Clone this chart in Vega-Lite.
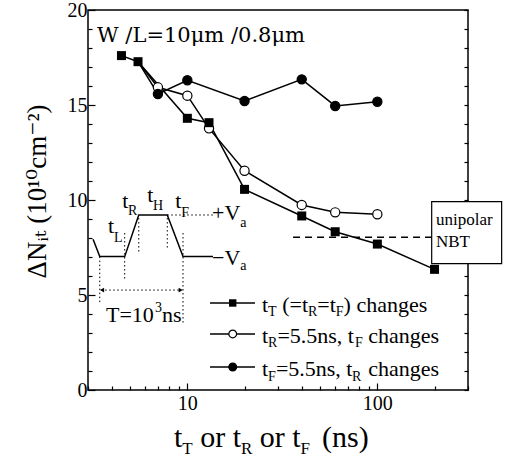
{
  "$schema": "https://vega.github.io/schema/vega-lite/v6.json",
  "width": 380,
  "height": 380,
  "autosize": "none",
  "padding": {"left": 88, "top": 10, "right": 40, "bottom": 72},
  "background": "white",
  "config": {
    "view": {"stroke": "black", "strokeWidth": 1.5},
    "axis": {"domain": false, "grid": false, "tickColor": "black", "tickWidth": 1.2, "labelColor": "black", "labelFont": "Liberation Serif, Times New Roman, DejaVu Serif, serif", "labelFontSize": 20, "titleColor": "black"},
    "text": {"font": "Liberation Serif, Times New Roman, DejaVu Serif, serif", "color": "black"}
  },
  "datasets": {
    "series": [
      {"s": "T", "x": 4.5, "y": 17.6},
      {"s": "T", "x": 5.5, "y": 17.28},
      {"s": "T", "x": 10, "y": 14.3},
      {"s": "T", "x": 13, "y": 14.07},
      {"s": "T", "x": 20, "y": 10.56},
      {"s": "T", "x": 40, "y": 9.16},
      {"s": "T", "x": 60, "y": 8.33},
      {"s": "T", "x": 100, "y": 7.68},
      {"s": "T", "x": 200, "y": 6.35},
      {"s": "R", "x": 5.5, "y": 17.28},
      {"s": "R", "x": 7, "y": 15.93},
      {"s": "R", "x": 10, "y": 15.49},
      {"s": "R", "x": 13, "y": 13.77},
      {"s": "R", "x": 20, "y": 11.54},
      {"s": "R", "x": 40, "y": 9.74},
      {"s": "R", "x": 60, "y": 9.35},
      {"s": "R", "x": 100, "y": 9.25},
      {"s": "F", "x": 5.5, "y": 17.28},
      {"s": "F", "x": 7, "y": 15.58},
      {"s": "F", "x": 10, "y": 16.3},
      {"s": "F", "x": 20, "y": 15.21},
      {"s": "F", "x": 40, "y": 16.35},
      {"s": "F", "x": 60, "y": 14.95},
      {"s": "F", "x": 100, "y": 15.17}
    ],
    "nbt": [{"x": 36, "x2": 193, "y": 8.04}],
    "box": [{"x": 193.2, "x2": 451, "y": 6.65, "y2": 9.91}],
    "boxText": [{"x": 203.5, "y": 8.68, "t": "unipolar"}, {"x": 203.5, "y": 7.53, "t": "NBT"}],
    "legLine": [
      {"x": 13.16, "x2": 22.7, "y": 4.58},
      {"x": 13.16, "x2": 22.7, "y": 2.95},
      {"x": 13.16, "x2": 22.7, "y": 1.21}
    ],
    "legMark": [
      {"s": "T", "x": 17.33, "y": 4.58},
      {"s": "R", "x": 17.33, "y": 2.95},
      {"s": "F", "x": 17.33, "y": 1.21}
    ],
    "pulse": [
      {"x": 3.19, "y": 7.93},
      {"x": 3.46, "y": 7.02},
      {"x": 4.68, "y": 7.02},
      {"x": 5.55, "y": 9.21},
      {"x": 7.84, "y": 9.21},
      {"x": 9.49, "y": 7.02},
      {"x": 13.65, "y": 7.02}
    ],
    "dotted": [
      {"x": 3.46, "x2": 3.46, "y": 7.02, "y2": 4.56},
      {"x": 4.68, "x2": 4.68, "y": 8.26, "y2": 5.79},
      {"x": 5.55, "x2": 5.55, "y": 9.05, "y2": 7.26},
      {"x": 7.84, "x2": 7.84, "y": 9.05, "y2": 7.37},
      {"x": 9.49, "x2": 9.49, "y": 8.26, "y2": 3.53},
      {"x": 7.84, "x2": 13.65, "y": 9.21, "y2": 9.21},
      {"x": 3.52, "x2": 9.29, "y": 5.26, "y2": 5.26}
    ],
    "arrows": [{"d": "left", "x": 3.56, "y": 5.26}, {"d": "right", "x": 9.22, "y": 5.26}],
    "label": [{"x": 3.35, "y": 18.33, "t": "W /L=10μm /0.8μm"}],
    "textMain": [
      {"x": 24.71, "y": 4.13, "t": "t"},
      {"x": 31.57, "y": 4.13, "t": "(=t"},
      {"x": 48.3, "y": 4.13, "t": "=t"},
      {"x": 66.43, "y": 4.13, "t": ") changes"},
      {"x": 24.71, "y": 2.5, "t": "t"},
      {"x": 29.78, "y": 2.5, "t": "=5.5ns, t"},
      {"x": 89.5, "y": 2.5, "t": "changes"},
      {"x": 24.71, "y": 0.76, "t": "t"},
      {"x": 29.24, "y": 0.76, "t": "=5.5ns, t"},
      {"x": 89.5, "y": 0.76, "t": "changes"},
      {"x": 3.82, "y": 8.25, "t": "t"},
      {"x": 4.55, "y": 9.56, "t": "t"},
      {"x": 6.15, "y": 9.91, "t": "t"},
      {"x": 8.64, "y": 9.56, "t": "t"},
      {"x": 13.48, "y": 8.95, "t": "+V"},
      {"x": 13.48, "y": 6.58, "t": "−V"},
      {"x": 3.73, "y": 3.59, "t": "T=10"},
      {"x": 7.355, "y": 3.59, "t": "ns"}
    ],
    "textSub": [
      {"x": 26.61, "y": 3.87, "t": "T"},
      {"x": 43.15, "y": 3.87, "t": "R"},
      {"x": 60.44, "y": 3.87, "t": "F"},
      {"x": 26.61, "y": 2.24, "t": "R"},
      {"x": 76.27, "y": 2.24, "t": "F"},
      {"x": 26.61, "y": 0.5, "t": "F"},
      {"x": 73.55, "y": 0.5, "t": "R"},
      {"x": 4.11, "y": 7.81, "t": "L"},
      {"x": 4.87, "y": 9.21, "t": "R"},
      {"x": 6.6, "y": 9.47, "t": "H"},
      {"x": 9.29, "y": 9.12, "t": "F"},
      {"x": 18.99, "y": 8.59, "t": "a"},
      {"x": 18.99, "y": 6.32, "t": "a"},
      {"x": 6.755, "y": 4.1, "t": "3"}
    ],
    "xTitle": [
      {"x": 8.51, "y": -2.98, "t": "t"},
      {"x": 11.68, "y": -2.98, "t": "or t"},
      {"x": 24.06, "y": -2.98, "t": "or t"},
      {"x": 51.13, "y": -2.98, "t": "(ns)"}
    ],
    "xTitleSub": [
      {"x": 9.41, "y": -3.37, "t": "T"},
      {"x": 19.16, "y": -3.37, "t": "R"},
      {"x": 39.45, "y": -3.37, "t": "F"}
    ]
  },
  "resolve": {"axis": {"x": "independent", "y": "independent"}},
  "layer": [
    {
      "encoding": {
        "x": {
          "field": "x", "type": "quantitative",
          "scale": {"type": "log", "domain": [3, 300], "nice": false},
          "axis": {
            "orient": "bottom", "title": null, "format": "d",
            "values": [3, 4, 5, 6, 7, 8, 9, 10, 20, 30, 40, 50, 60, 70, 80, 90, 100, 200, 300],
            "labelExpr": "datum.value == 10 || datum.value == 100 ? datum.label : ''",
            "tickSize": {"condition": {"test": "datum.value == 10 || datum.value == 100", "value": -7}, "value": -4},
            "labelPadding": 10, "labelFlush": false, "labelOverlap": false
          }
        },
        "y": {
          "field": "y", "type": "quantitative",
          "scale": {"domain": [0, 20], "nice": false, "zero": false},
          "axis": {
            "orient": "left",
            "values": [0, 1, 2, 3, 4, 5, 6, 7, 8, 9, 10, 11, 12, 13, 14, 15, 16, 17, 18, 19, 20],
            "labelExpr": "datum.value % 5 == 0 ? datum.label : ''",
            "tickSize": {"condition": {"test": "datum.value % 5 == 0", "value": -7}, "value": -4},
            "labelPadding": 8, "labelOverlap": false, "labelFlush": false,
            "title": "ΔNᵢₜ (10¹⁰cm⁻²)",
            "titleFont": "Liberation Serif, Times New Roman, DejaVu Serif, serif", "titleFontSize": 27, "titleFontWeight": "normal",
            "titleX": -43, "titleY": 181, "titleBaseline": "alphabetic", "titleAngle": 270, "titleAlign": "center"
          }
        }
      },
      "layer": [
        {
          "data": {"name": "series"},
          "mark": {"type": "line", "color": "black", "strokeWidth": 1.5},
          "encoding": {"detail": {"field": "s", "type": "nominal"}}
        },
        {
          "data": {"name": "series"},
          "transform": [{"filter": "datum.s != 'T' && datum.x != 5.5"}],
          "mark": {"type": "point", "shape": "circle", "filled": true, "size": 85, "stroke": "black", "strokeWidth": 1.2, "opacity": 1},
          "encoding": {"fill": {"field": "s", "type": "nominal", "scale": {"domain": ["R", "F"], "range": ["white", "black"]}, "legend": null}}
        },
        {
          "data": {"name": "series"},
          "transform": [{"filter": "datum.s == 'T'"}],
          "mark": {"type": "square", "size": 81, "color": "black", "opacity": 1}
        },
        {
          "data": {"name": "legLine"},
          "mark": {"type": "rule", "color": "black", "strokeWidth": 1.5},
          "encoding": {"x2": {"field": "x2"}}
        },
        {
          "data": {"name": "legMark"},
          "transform": [{"filter": "datum.s != 'T'"}],
          "mark": {"type": "point", "shape": "circle", "filled": true, "size": 60, "stroke": "black", "strokeWidth": 1.2, "opacity": 1},
          "encoding": {"fill": {"field": "s", "type": "nominal", "scale": {"domain": ["R", "F"], "range": ["white", "black"]}, "legend": null}}
        },
        {
          "data": {"name": "legMark"},
          "transform": [{"filter": "datum.s == 'T'"}],
          "mark": {"type": "square", "size": 55, "color": "black", "opacity": 1}
        },
        {
          "data": {"name": "box"},
          "mark": {"type": "rect", "fill": "white", "stroke": "black", "strokeWidth": 1.2},
          "encoding": {"x2": {"field": "x2"}, "y2": {"field": "y2"}}
        },
        {
          "data": {"name": "boxText"},
          "mark": {"type": "text", "align": "left", "baseline": "alphabetic", "fontSize": 17},
          "encoding": {"text": {"field": "t", "type": "nominal"}}
        },
        {
          "data": {"name": "pulse"},
          "mark": {"type": "line", "color": "black", "strokeWidth": 1.5},
          "encoding": {}
        },
        {
          "data": {"name": "dotted"},
          "mark": {"type": "rule", "color": "black", "strokeWidth": 1, "strokeDash": [1.5, 2.5]},
          "encoding": {"x2": {"field": "x2"}, "y2": {"field": "y2"}}
        },
        {
          "data": {"name": "arrows"},
          "mark": {"type": "point", "filled": true, "size": 22, "color": "black", "opacity": 1},
          "encoding": {"shape": {"field": "d", "type": "nominal", "scale": {"domain": ["left", "right"], "range": ["triangle-left", "triangle-right"]}, "legend": null}}
        },
        {
          "data": {"name": "label"},
          "mark": {"type": "text", "align": "left", "baseline": "alphabetic", "fontSize": 21, "font": "DejaVu Serif, serif"},
          "encoding": {"text": {"field": "t", "type": "nominal"}}
        },
        {
          "data": {"name": "textMain"},
          "mark": {"type": "text", "align": "left", "baseline": "alphabetic", "fontSize": 22},
          "encoding": {"text": {"field": "t", "type": "nominal"}}
        },
        {
          "data": {"name": "textSub"},
          "mark": {"type": "text", "align": "left", "baseline": "alphabetic", "fontSize": 14},
          "encoding": {"text": {"field": "t", "type": "nominal"}}
        },
        {
          "data": {"name": "xTitle"},
          "mark": {"type": "text", "align": "left", "baseline": "alphabetic", "fontSize": 30},
          "encoding": {"text": {"field": "t", "type": "nominal"}}
        },
        {
          "data": {"name": "xTitleSub"},
          "mark": {"type": "text", "align": "left", "baseline": "alphabetic", "fontSize": 17},
          "encoding": {"text": {"field": "t", "type": "nominal"}}
        }
      ]
    },
    {
      "data": {"name": "nbt"},
      "mark": {"type": "rule", "color": "black", "strokeWidth": 1.5, "strokeDash": [7, 5]},
      "encoding": {
        "x": {"field": "x", "type": "quantitative", "scale": {"type": "log", "domain": [3, 300], "nice": false}, "axis": null},
        "x2": {"field": "x2"},
        "y": {
          "field": "y", "type": "quantitative",
          "scale": {"domain": [0, 20], "nice": false, "zero": false},
          "axis": {
            "orient": "right", "title": null, "labels": false,
            "values": [0, 1, 2, 3, 4, 5, 6, 7, 8, 9, 10, 11, 12, 13, 14, 15, 16, 17, 18, 19, 20],
            "tickSize": -4
          }
        }
      }
    }
  ]
}
